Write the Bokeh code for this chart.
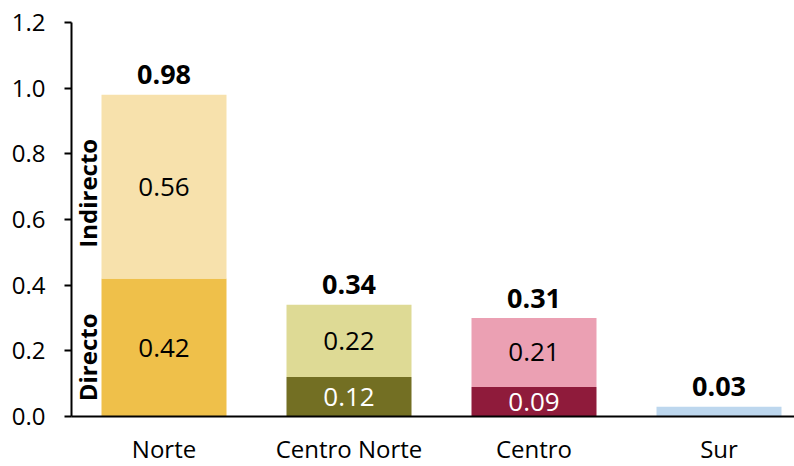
import math
from bokeh.plotting import figure
from bokeh.models import Range1d, FixedTicker, ColumnDataSource
from bokeh.core.properties import value
from bokeh.embed import file_html
from bokeh.resources import INLINE

categories = ["Norte", "Centro Norte", "Centro", "Sur"]
directo = [0.42, 0.12, 0.09, 0.00]
indirecto = [0.56, 0.22, 0.21, 0.03]
totales = [0.98, 0.34, 0.31, 0.03]
y_ticks = [0.0, 0.2, 0.4, 0.6, 0.8, 1.0, 1.2]

colors_directo = ["#EFC04A", "#736F23", "#8F1B3B", "#BDD7EE"]
colors_indirecto = ["#F7E1AC", "#DEDA95", "#EBA0B3", "#BDD7EE"]
text_colors_directo = ["#000000", "#FFFFFF", "#FFFFFF", "#000000"]

FONT_NAME = "Open Sans"
FONT = value(FONT_NAME)

x = [i + 0.5 for i in range(len(categories))]
top_dir = directo
top_ind = [d + i for d, i in zip(directo, indirecto)]

p = figure(width=794, height=466, output_backend="svg", toolbar_location=None,
           x_range=Range1d(0, 723 / 185), y_range=Range1d(0, 1.2),
           min_border_left=71, min_border_right=0, min_border_top=22, min_border_bottom=0,
           frame_width=723, frame_height=394)
p.outline_line_color = None
p.xgrid.visible = False
p.ygrid.visible = False
p.background_fill_color = "white"

bw = 125 / 185
src = ColumnDataSource(dict(x=x, d=top_dir, t=top_ind, cd=colors_directo, ci=colors_indirecto))
p.vbar(x="x", bottom=0, top="d", width=bw, fill_color="cd", line_color=None, source=src)
p.vbar(x="x", bottom="d", top="t", width=bw, fill_color="ci", line_color=None, source=src)

# segment labels
lx, ly, lt, lc = [], [], [], []
for xi, d, ind, tc in zip(x, directo, indirecto, text_colors_directo):
    if d >= 0.05:
        lx.append(xi); ly.append(d / 2); lt.append(f"{d:.2f}"); lc.append(tc)
    if ind >= 0.05:
        lx.append(xi); ly.append(d + ind / 2); lt.append(f"{ind:.2f}"); lc.append("#000000")
p.text(x=lx, y=ly, text=lt, text_color=lc, text_font=FONT, text_font_size="26px",
       text_align="center", text_baseline="middle")

# totals
p.text(x=x, y=top_ind, text=[f"{t:.2f}" for t in totales], text_color="#000000",
       text_font=FONT, text_font_size="27px", text_font_style="bold",
       text_align="center", text_baseline="middle", y_offset=-20)

# rotated series labels next to first bar
p.text(x=[x[0] - 0.5 + 16 / 185] * 2, y=[0.68, 0.18], text=["Indirecto", "Directo"],
       angle=math.pi / 2, text_color="#000000", text_font=FONT, text_font_size="24px",
       text_font_style="bold", text_align="center", text_baseline="middle")

# axes
p.yaxis.ticker = FixedTicker(ticks=y_ticks)
p.yaxis.major_label_overrides = {t: f"{t:.1f}" for t in y_ticks}
p.yaxis.axis_line_width = 2
p.yaxis.axis_line_color = "#000000"
p.yaxis.major_tick_line_width = 2
p.yaxis.major_tick_out = 7
p.yaxis.major_tick_in = 0
p.yaxis.minor_tick_line_color = None
p.yaxis.major_label_standoff = 19
p.yaxis.major_label_text_font = FONT_NAME
p.yaxis.major_label_text_font_size = "24px"
p.yaxis.major_label_text_color = "#000000"

p.xaxis.ticker = FixedTicker(ticks=x)
p.xaxis.major_label_overrides = {xi: c for xi, c in zip(x, categories)}
p.xaxis.axis_line_width = 2
p.xaxis.axis_line_color = "#000000"
p.xaxis.major_tick_line_color = None
p.xaxis.major_tick_out = 0
p.xaxis.major_tick_in = 0
p.xaxis.minor_tick_line_color = None
p.xaxis.major_label_standoff = 15
p.xaxis.major_label_text_font = FONT_NAME
p.xaxis.major_label_text_font_size = "24px"
p.xaxis.major_label_text_color = "#000000"
p.xaxis.major_label_text_line_height = 0.5

open("out.html", "w").write(file_html(p, INLINE))
